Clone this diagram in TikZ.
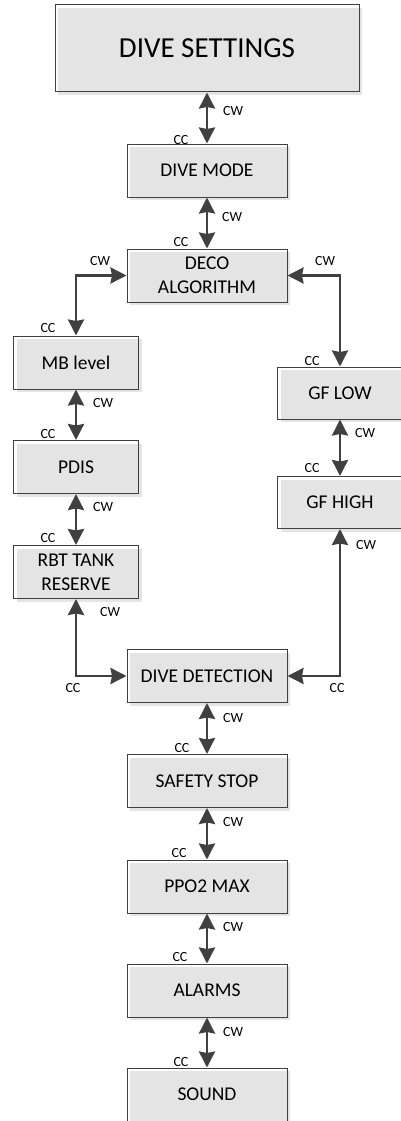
\documentclass[tikz,border=0pt]{standalone}
\usepackage{fontspec}
\setmainfont{Carlito}
\usepackage{xcolor}
\usetikzlibrary{arrows.meta,positioning,calc,shadows}

\definecolor{edgegray}{HTML}{404040}
\definecolor{boxgray}{HTML}{E4E4E4}

\begin{document}
\begin{tikzpicture}[x=1pt,y=-1pt,
    menu/.style={draw=edgegray,line width=1pt,align=center,inner sep=0pt,
      minimum width=160pt,minimum height=53pt,font=\fontsize{19.5}{24}\selectfont,
      drop shadow={shadow xshift=3pt,shadow yshift=-3pt,fill=boxgray,opacity=1}},
    side/.style={menu,minimum width=125pt},
    turn/.style={inner sep=0pt,font=\fontsize{14}{16}\selectfont},
    link/.style={{Stealth[length=16pt,width=16pt,inset=1.5pt]}-{Stealth[length=16pt,width=16pt,inset=1.5pt]},
      line width=2.6pt,draw=edgegray}
  ]
    \useasboundingbox (0,0) rectangle (400,1121);
    % menu entries
    \node[menu,minimum width=304pt,minimum height=87pt,font=\fontsize{29}{34}\selectfont]
      (set) at (207,48.5) {DIVE SETTINGS};
    \node[menu] (mode) at (207,170.5) {DIVE MODE};
    \node[menu] (deco) at (207,275.5) {DECO\\ALGORITHM};
    \node[side] (mb) at (76,362.5) {MB level};
    \node[side] (pdis) at (76,467) {PDIS};
    \node[side] (rbt) at (76,572) {RBT TANK\\RESERVE};
    \node[side,minimum height=52pt] (gflow) at (340,393) {GF LOW};
    \node[side,minimum height=52pt] (gfhigh) at (340,502.5) {GF HIGH};
    \node[menu] (det) at (207,676) {DIVE DETECTION};
    \node[menu] (safety) at (207,781) {SAFETY STOP};
    \node[menu] (ppo) at (207,886.5) {PPO2 MAX};
    \node[menu] (alarms) at (207,990.5) {ALARMS};
    \node[menu] (sound) at (207,1094.5) {SOUND};
    % knob turns
    \draw[link] (set) -- (mode);
    \draw[link] (mode) -- (deco);
    \draw[link] (deco.west) -| (mb.north);
    \draw[link] (deco.east) -| (gflow.north);
    \draw[link] (mb) -- (pdis);
    \draw[link] (pdis) -- (rbt);
    \draw[link] (gflow) -- (gfhigh);
    \draw[link] (rbt.south) |- (det.west);
    \draw[link] (gfhigh.south) |- (det.east);
    \draw[link] (det) -- (safety);
    \draw[link] (safety) -- (ppo);
    \draw[link] (ppo) -- (alarms);
    \draw[link] (alarms) -- (sound);
    % direction labels
    \node[turn] (cw1) at (233,111) {CW};
    \node[turn] (cc1) at (181,140) {CC};
    \node[turn] (cw2) at (232,217) {CW};
    \node[turn] (cc2) at (181,242) {CC};
    \node[turn] (cw3) at (100,261) {CW};
    \node[turn] (cc3) at (48,328) {CC};
    \node[turn] (cw4) at (325,261) {CW};
    \node[turn] (cc4) at (312,361) {CC};
    \node[turn] (cw5) at (103,403) {CW};
    \node[turn] (cc5) at (48,434) {CC};
    \node[turn] (cw6) at (103,507) {CW};
    \node[turn] (cc6) at (48,538) {CC};
    \node[turn] (cw7) at (110,612) {CW};
    \node[turn] (cc7) at (73,688) {CC};
    \node[turn] (cw8) at (365,433) {CW};
    \node[turn] (cc8) at (312,468) {CC};
    \node[turn] (cw9) at (366,545) {CW};
    \node[turn] (cc9) at (337,688) {CC};
    \node[turn] (cw10) at (233,718) {CW};
    \node[turn] (cc10) at (182,748) {CC};
    \node[turn] (cw11) at (233,822) {CW};
    \node[turn] (cc11) at (179,853) {CC};
    \node[turn] (cw12) at (233,927) {CW};
    \node[turn] (cc12) at (180,957) {CC};
    \node[turn] (cw13) at (233,1032) {CW};
    \node[turn] (cc13) at (181,1062) {CC};
\end{tikzpicture}
\end{document}
